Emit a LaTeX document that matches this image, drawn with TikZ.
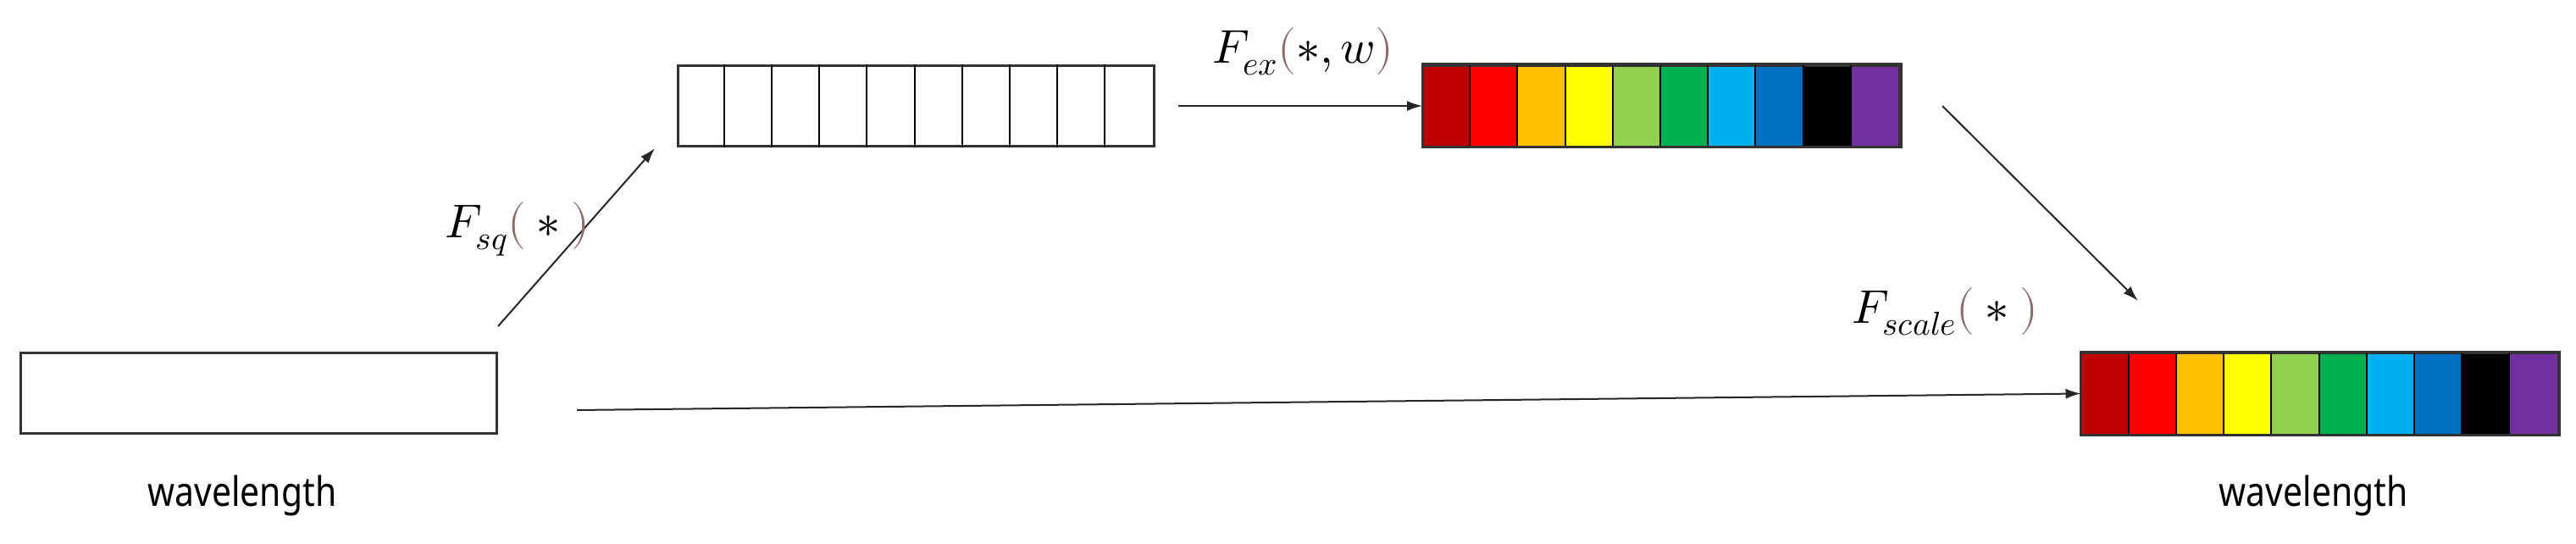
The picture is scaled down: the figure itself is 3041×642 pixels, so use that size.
\documentclass[tikz,border=0pt]{standalone}
\usepackage{fontspec}
\setmainfont{Noto Sans}
\usepackage{unicode-math}
\usetikzlibrary{arrows.meta,calc}
\definecolor{c1}{HTML}{C00000}\definecolor{c2}{HTML}{FF0000}\definecolor{c3}{HTML}{FFC000}
\definecolor{c4}{HTML}{FFFF00}\definecolor{c5}{HTML}{92D050}\definecolor{c6}{HTML}{00B050}
\definecolor{c7}{HTML}{00B0F0}\definecolor{c8}{HTML}{0070C0}\definecolor{c9}{HTML}{000000}
\definecolor{c10}{HTML}{7030A0}\definecolor{par}{HTML}{8B6B6B}
\newcommand{\pL}{\textcolor{par}{(}}\newcommand{\pR}{\textcolor{par}{)}}
\tikzset{box/.style={draw=black!80,line width=3pt,minimum width=562pt,minimum height=95pt,inner sep=0pt},
 arr/.style={-{Latex[length=18pt,width=12pt]},line width=2pt,black!85},
 lab/.style={font=\fontsize{56}{60}\selectfont},
 wl/.style={font=\fontsize{48}{56}\selectfont\addfontfeatures{FakeStretch=0.85}}}
\begin{document}
\begin{tikzpicture}[x=1pt,y=1pt]
\useasboundingbox (0,0) rectangle (3041,642);
\node[box] (in) at (305,177.5) {};
\node[box] (sq) at (1081,517) {};
\foreach \i in {1,...,9}{\draw[line width=2pt] ($(sq.south west)+(\i*56.2,0)$) -- ($(sq.north west)+(\i*56.2,0)$);}
\node[box] (ex) at (1961.5,517) {};
\foreach \i in {1,...,10}{\fill[c\i] ($(ex.south west)+(\i*56.2-56.2,0)$) rectangle ++(56.2,95);}
\foreach \i in {1,...,9}{\draw[line width=2pt] ($(ex.south west)+(\i*56.2,0)$) -- ($(ex.north west)+(\i*56.2,0)$);}
\node[box] (out) at (2739,177.5) {};
\foreach \i in {1,...,10}{\fill[c\i] ($(out.south west)+(\i*56.2-56.2,0)$) rectangle ++(56.2,95);}
\foreach \i in {1,...,9}{\draw[line width=2pt] ($(out.south west)+(\i*56.2,0)$) -- ($(out.north west)+(\i*56.2,0)$);}
\draw[line width=3pt,black!80] (ex.south west) rectangle (ex.north east);
\draw[line width=3pt,black!80] (out.south west) rectangle (out.north east);
\node[wl] (w1) at (286,57) {wavelength};
\node[wl] (w2) at (2731,57) {wavelength};
\coordinate (a1) at (588,257); \coordinate (a2) at (773,467);
\draw[arr] (a1) -- (a2);
\node[lab] (l1) at (611,372) {$F_{sq}\pL\ast\pR$};
\coordinate (e1) at (1391,517);
\draw[arr] (e1) -- (ex.west);
\node[lab] (l2) at (1538,581) {$F_{ex}\pL\ast,w\pR$};
\coordinate (s1) at (2293,517); \coordinate (s2) at (2524,287);
\draw[arr] (s1) -- (s2);
\node[lab] (l3) at (2296,274) {$F_{scale}\pL\ast\pR$};
\coordinate (b1) at (681,158);
\draw[arr] (b1) -- (out.west);
\end{tikzpicture}
\end{document}
